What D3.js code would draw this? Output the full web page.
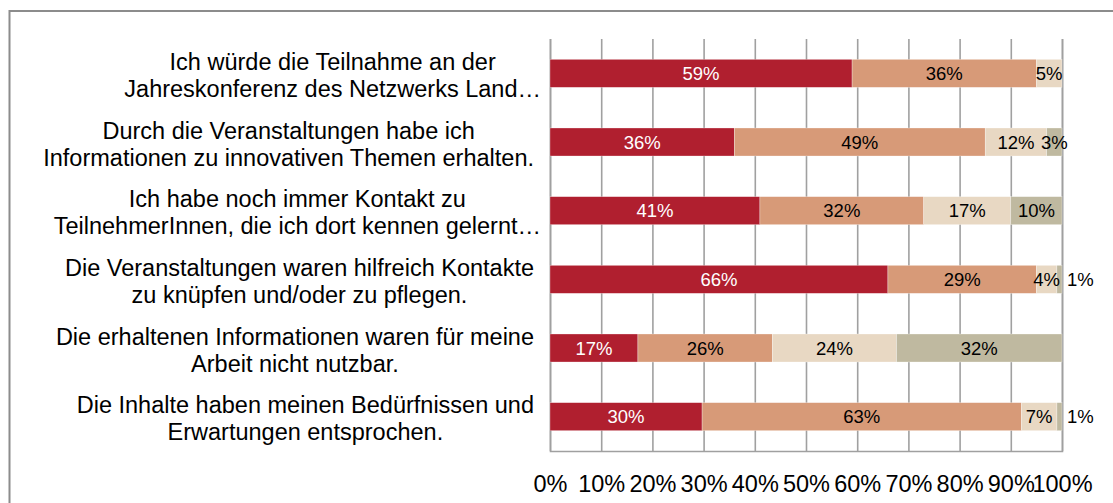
<!DOCTYPE html>
<html>
<head>
<meta charset="utf-8">
<script src="https://cdn.jsdelivr.net/npm/d3@7"></script>
<style>
    body { margin: 0; background: #fff; }
    svg { display: block; font-family: "Liberation Sans", Arial, sans-serif; }
</style>
</head>
<body>
<div class="visHolder"></div>
<script>
const categories = [
    ["Ich würde die Teilnahme an der", "Jahreskonferenz des Netzwerks Land…"],
    ["Durch die Veranstaltungen habe ich", "Informationen zu innovativen Themen erhalten."],
    ["Ich habe noch immer Kontakt zu", "TeilnehmerInnen, die ich dort kennen gelernt…"],
    ["Die Veranstaltungen waren hilfreich Kontakte", "zu knüpfen und/oder zu pflegen."],
    ["Die erhaltenen Informationen waren für meine", "Arbeit nicht nutzbar."],
    ["Die Inhalte haben meinen Bedürfnissen und", "Erwartungen entsprochen."]
];
const series1 = [59, 36, 41, 66, 17, 30];
const series2 = [36, 49, 32, 29, 26, 63];
const series3 = [5, 12, 17, 4, 24, 7];
const series4 = [0, 3, 10, 1, 32, 1];
const tickLabels = ["0%", "10%", "20%", "30%", "40%", "50%", "60%", "70%", "80%", "90%", "100%"];

const colors = ["#B01F2F", "#D79A78", "#E8D8C3", "#BFB9A0"];
const labelColors = ["#fff", "#000", "#000", "#000"];

const width = 1113;
const height = 503;
const padding = {
    top: 39,
    left: 550,
    right: 51,
    bottom: 52
};

const keys = ["s1", "s2", "s3", "s4"];
const rows = categories.map((c, i) => ({
    id: i,
    s1: series1[i],
    s2: series2[i],
    s3: series3[i],
    s4: series4[i]
}));
const stacked = d3.stack()
    .keys(keys)
    .offset(d3.stackOffsetExpand)(rows);

const svg = d3.select(".visHolder")
    .append("svg")
    .attr("width", width)
    .attr("height", height);

// outer frame (cut off at right and bottom)
svg.append("rect")
    .attr("x", 9.5)
    .attr("y", 11)
    .attr("width", width)
    .attr("height", height)
    .attr("fill", "none")
    .attr("stroke", "#8C8C8C")
    .attr("stroke-width", 2);

const xScale = d3.scaleLinear()
    .domain([0, 1])
    .range([padding.left, width - padding.right]);

const yScale = d3.scaleBand()
    .domain(rows.map(d => d.id))
    .range([padding.top, height - padding.bottom])
    .paddingInner(0.592)
    .paddingOuter(0.296);

const tickValues = d3.range(0, 11).map(i => i / 10);
const plotBottom = height - padding.bottom;

// gridlines
svg.append("g")
    .attr("class", "grid")
    .attr("transform", "translate(0," + plotBottom + ")")
    .call(d3.axisBottom(xScale)
        .tickValues(tickValues)
        .tickSize(-(plotBottom - padding.top))
        .tickFormat(""))
    .call(g => g.selectAll("line").attr("stroke", "#A0A0A0").attr("stroke-width", 1.6))
    .call(g => g.select(".domain").attr("stroke", "#A0A0A0").attr("stroke-width", 1.6));

// bars
const layer = svg.append("g")
    .selectAll("g")
    .data(stacked)
    .enter()
    .append("g")
    .attr("fill", (d, i) => colors[i]);

layer.selectAll("rect")
    .data(d => d)
    .enter()
    .append("rect")
    .attr("x", d => xScale(d[0]))
    .attr("y", d => yScale(d.data.id))
    .attr("width", d => xScale(d[1]) - xScale(d[0]))
    .attr("height", yScale.bandwidth())
    .attr("stroke", "#fff")
    .attr("stroke-width", 0.5)
    .attr("stroke-opacity", 0.6);

// bar value labels
stacked.forEach((s, si) => {
    svg.append("g")
        .selectAll("text")
        .data(s.filter(d => d.data[s.key] > 0))
        .enter()
        .append("text")
        .attr("x", d => d.data[s.key] <= 1 ? xScale(1) + 5 : (xScale(d[0]) + xScale(d[1])) / 2)
        .attr("y", d => yScale(d.data.id) + yScale.bandwidth() / 2)
        .attr("dy", "0.36em")
        .attr("text-anchor", d => d.data[s.key] <= 1 ? "start" : "middle")
        .attr("fill", d => d.data[s.key] <= 1 ? "#000" : labelColors[si])
        .style("font-size", "18.5px")
        .text(d => d.data[s.key] + "%");
});

// x axis tick labels
svg.append("g")
    .attr("transform", "translate(0," + plotBottom + ")")
    .call(d3.axisBottom(xScale)
        .tickValues(tickValues)
        .tickSize(0)
        .tickPadding(24)
        .tickFormat((d, i) => tickLabels[i]))
    .call(g => g.select(".domain").remove())
    .call(g => g.selectAll("text")
        .attr("fill", "#000")
        .style("font-size", "23.5px")
        .style("font-family", "'Liberation Sans', Arial, sans-serif"));

// category labels: centred lines, block right-aligned against the axis
// (truncated labels run up to the axis, the others stop a little short)
const lineHeight = 27;
const catLabels = svg.append("g")
    .selectAll("text")
    .data(rows)
    .enter()
    .append("text")
    .attr("text-anchor", "middle")
    .attr("fill", "#000")
    .style("font-size", "23.5px");

catLabels.each(function (d) {
    const text = d3.select(this);
    const lines = categories[d.id];
    const truncated = lines.some(l => l.endsWith("…"));
    const labelRight = truncated ? 541 : 534;
    const cy = yScale(d.id) + yScale.bandwidth() / 2 + 2;
    lines.forEach((line, li) => {
        text.append("tspan")
            .attr("y", cy + (li - (lines.length - 1) / 2) * lineHeight)
            .attr("dy", "0.35em")
            .text(line);
    });
    let maxW = 0;
    text.selectAll("tspan").each(function () {
        maxW = Math.max(maxW, this.getComputedTextLength());
    });
    text.selectAll("tspan").attr("x", labelRight - maxW / 2);
});
</script>
</body>
</html>
